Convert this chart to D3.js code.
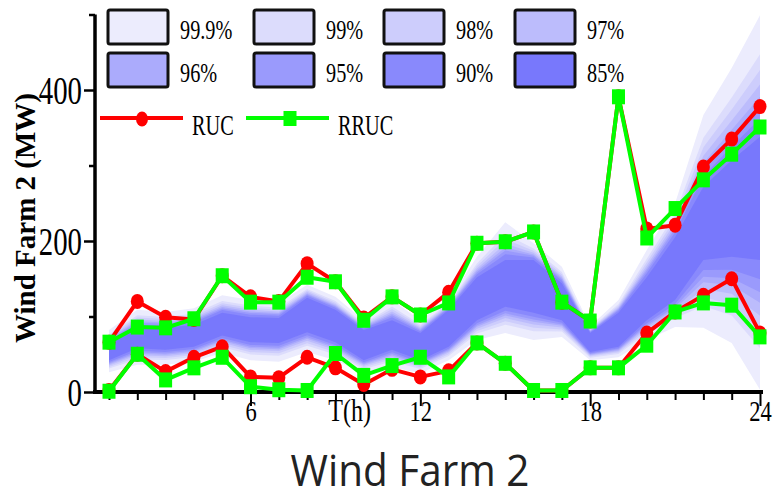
<!DOCTYPE html>
<html>
<head>
<meta charset="utf-8">
<script src="https://cdn.jsdelivr.net/npm/d3@7"></script>
<style>
  body { margin: 0; background: #fff; }
  svg { display: block; }
</style>
</head>
<body>
<svg id="chart" width="773" height="500"></svg>
<script>
// hours of the day
const hours = [1, 2, 3, 4, 5, 6, 7, 8, 9, 10, 11, 12, 13, 14, 15, 16, 17, 18, 19, 20, 21, 22, 23, 24];

// RUC / RRUC schedules, upper and lower bounds (MW)
const rucUpper  = [66, 120, 99, 96, 154, 126, 120, 170, 146, 98, 126, 102, 132, 197, 199, 212, 119, 94, 391, 216, 221, 298, 335, 378];
const rrucUpper = [66, 86, 85, 97, 154, 119, 119, 152, 146, 95, 126, 102, 118, 197, 199, 212, 119, 94, 391, 204, 243, 281, 315, 351];
const rucLower  = [2, 50, 27, 46, 60, 20, 19, 46, 32, 10, 30, 20, 28, 65, 38, 2, 2, 32, 32, 78, 106, 128, 150, 78];
const rrucLower = [1, 50, 16, 32, 46, 7, 3, 2, 51, 22, 35, 46, 20, 65, 38, 2, 2, 32, 32, 62, 106, 118, 115, 73];

// forecast band edges: 85% and 99.9% bands
const hi999 = [82, 109, 106, 111, 128, 122, 118, 142, 126, 95, 122, 95, 122, 179, 225, 197, 166, 87, 122, 188, 250, 367, 429, 499];
const lo999 = [26, 36, 36, 40, 52, 42, 40, 53, 42, 25, 33, 25, 42, 69, 78, 69, 73, 42, 46, 69, 86, 85, 65, 3];
const hi85  = [65, 86, 85, 89, 105, 99, 98, 125, 109, 82, 95, 78, 109, 152, 175, 175, 144, 78, 105, 152, 205, 272, 307, 338];
const lo85  = [42, 58, 56, 60, 75, 66, 65, 79, 66, 42, 56, 42, 60, 95, 113, 105, 95, 53, 60, 95, 122, 175, 179, 175];

// confidence levels, outermost first; position of each edge between the 85% and 99.9% edges
const levels = ["99.9%", "99%", "98%", "97%", "96%", "95%", "90%", "85%"];
const levelPos = [1, 0.68, 0.55, 0.43, 0.33, 0.25, 0.15, 0];
const bandColors = ["#ececfd", "#dcdcfc", "#cdcdfc", "#bcbcfc", "#ababfc", "#9a9afc", "#8989fc", "#7878fc"];

const yTicks = [0, 100, 200, 300, 400, 500];

const svg = d3.select("#chart");

const x = d3.scaleLinear().domain([1, 24]).range([109, 760]);
const y = d3.scaleLinear().domain([0, 500]).range([392, 14.5]);

// the reference text is squeezed sideways
function squeeze(sel, k) {
  sel.each(function () {
    const w = this.getComputedTextLength();
    if (w > 0) d3.select(this).attr("textLength", w * k).attr("lengthAdjust", "spacingAndGlyphs");
  });
}

// bands
levels.forEach((lv, i) => {
  const t = levelPos[i];
  const area = d3.area()
    .x((d, j) => x(hours[j]))
    .y0((d, j) => y(lo85[j] + t * (lo999[j] - lo85[j])))
    .y1((d, j) => y(hi85[j] + t * (hi999[j] - hi85[j])));
  svg.append("path")
    .datum(hours)
    .attr("d", area)
    .attr("fill", bandColors[i]);
});

// x axis
const gx = svg.append("g")
  .attr("transform", "translate(0,392)")
  .call(d3.axisBottom(x).tickValues(hours).tickSizeOuter(0).tickFormat(d => d % 6 === 0 ? d : ""));
gx.select(".domain").remove();
gx.selectAll(".tick line")
  .attr("y2", d => d % 6 === 0 ? 14 : 8)
  .attr("stroke", "#000")
  .attr("stroke-width", 2);
gx.selectAll(".tick text")
  .attr("y", 29)
  .attr("dy", null)
  .attr("fill", "#000")
  .style("font-family", "'Liberation Serif', 'Times New Roman', serif")
  .style("font-size", "30px")
  .call(squeeze, 0.75);

// y axis
const gy = svg.append("g")
  .attr("transform", "translate(95,0)")
  .call(d3.axisLeft(y).tickValues(yTicks).tickSizeOuter(0).tickFormat(d => d % 200 === 0 ? d : ""));
gy.select(".domain").remove();
gy.selectAll(".tick line")
  .attr("x2", d => d % 200 === 0 ? -11 : -6)
  .attr("stroke", "#000")
  .attr("stroke-width", 2.5);
gy.selectAll(".tick text")
  .attr("x", -13)
  .attr("dy", "0.33em")
  .attr("fill", "#000")
  .style("font-family", "'Liberation Serif', 'Times New Roman', serif")
  .style("font-size", "40px")
  .call(squeeze, 0.72);

svg.append("line")
  .attr("x1", 95).attr("x2", 95)
  .attr("y1", y(500)).attr("y2", 393.5)
  .attr("stroke", "#000").attr("stroke-width", 3.5);
svg.append("line")
  .attr("x1", 93).attr("x2", x(24) + 3)
  .attr("y1", 392).attr("y2", 392)
  .attr("stroke", "#000").attr("stroke-width", 4);

svg.append("text")
  .attr("x", x(9.5)).attr("y", 421)
  .attr("text-anchor", "middle")
  .style("font-family", "'Liberation Serif', 'Times New Roman', serif")
  .style("font-size", "32px")
  .text("T(h)")
  .call(squeeze, 0.75);

svg.append("text")
  .attr("transform", "translate(35,218) rotate(-90)")
  .attr("text-anchor", "middle")
  .style("font-family", "'Liberation Serif', 'Times New Roman', serif")
  .style("font-size", "29px")
  .style("font-weight", "bold")
  .text("Wind Farm 2 (MW)");

svg.append("text")
  .attr("x", 410).attr("y", 486)
  .attr("text-anchor", "middle")
  .style("font-family", "'Open Sans', 'Noto Sans', sans-serif")
  .style("font-size", "44px")
  .attr("fill", "#222")
  .text("Wind Farm 2")
  .call(squeeze, 0.92);

// schedule lines
const line = d3.line().x((d, j) => x(hours[j])).y(d => y(d));

function drawRuc(values) {
  svg.append("path").datum(values).attr("d", line)
    .attr("fill", "none").attr("stroke", "#ff0000").attr("stroke-width", 4).attr("stroke-linejoin", "round");
  svg.selectAll(null).data(values).enter().append("ellipse")
    .attr("cx", (d, j) => x(hours[j])).attr("cy", d => y(d))
    .attr("rx", 6.5).attr("ry", 7.5)
    .attr("fill", "#ff0000");
}
function drawRruc(values) {
  svg.append("path").datum(values).attr("d", line)
    .attr("fill", "none").attr("stroke", "#00ff00").attr("stroke-width", 4).attr("stroke-linejoin", "round");
  svg.selectAll(null).data(values).enter().append("rect")
    .attr("x", (d, j) => x(hours[j]) - 6.5).attr("y", d => y(d) - 7.5)
    .attr("width", 13).attr("height", 15)
    .attr("fill", "#00ff00");
}
drawRuc(rucUpper);
drawRuc(rucLower);
drawRruc(rrucUpper);
drawRruc(rrucLower);

// legend of bands
const boxX = [108, 254, 384, 515];
const boxY = [10, 53];
levels.forEach((lv, i) => {
  const col = i % 4, row = Math.floor(i / 4);
  svg.append("rect")
    .attr("x", boxX[col]).attr("y", boxY[row])
    .attr("width", 60).attr("height", 34)
    .attr("rx", 2)
    .attr("fill", bandColors[i])
    .attr("stroke", "#111").attr("stroke-width", 3);
  svg.append("text")
    .attr("x", boxX[col] + 72).attr("y", boxY[row] + 29)
    .style("font-family", "'Liberation Serif', 'Times New Roman', serif")
    .style("font-size", "27px")
    .text(lv)
    .call(squeeze, 0.75);
});

// legend of schedules
svg.append("line").attr("x1", 100).attr("x2", 183).attr("y1", 118).attr("y2", 118)
  .attr("stroke", "#ff0000").attr("stroke-width", 4);
svg.append("ellipse").attr("cx", 142).attr("cy", 119).attr("rx", 6).attr("ry", 7.5).attr("fill", "#ff0000");
svg.append("text").attr("x", 192).attr("y", 135)
  .style("font-family", "'Liberation Serif', 'Times New Roman', serif")
  .style("font-size", "29px")
  .text("RUC").call(squeeze, 0.7);

svg.append("line").attr("x1", 246).attr("x2", 329).attr("y1", 118).attr("y2", 118)
  .attr("stroke", "#00ff00").attr("stroke-width", 4);
svg.append("rect").attr("x", 283.5).attr("y", 111).attr("width", 13).attr("height", 15).attr("fill", "#00ff00");
svg.append("text").attr("x", 338).attr("y", 135)
  .style("font-family", "'Liberation Serif', 'Times New Roman', serif")
  .style("font-size", "29px")
  .text("RRUC").call(squeeze, 0.7);
</script>
</body>
</html>
